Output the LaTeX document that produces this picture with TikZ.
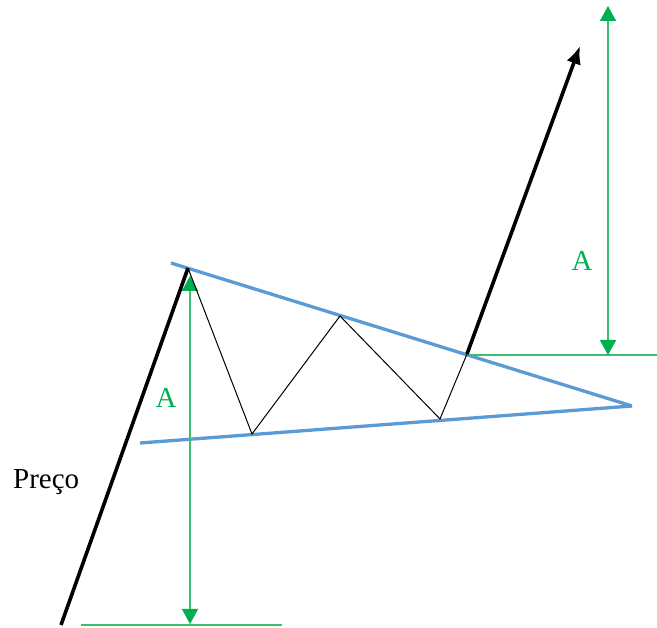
\documentclass[tikz,border=0pt]{standalone}
\usepackage{fontspec}
\setmainfont{Liberation Serif}
\usetikzlibrary{arrows.meta}
\definecolor{gr}{HTML}{00B050}
\definecolor{grl}{HTML}{3DBE6E}
\definecolor{bl}{HTML}{5B9BD5}
\begin{document}
\begin{tikzpicture}[x=1pt,y=-1pt,
  price/.style={line width=3.6pt,black},
  zig/.style={line width=1pt,black,line join=miter},
  trend/.style={line width=3.3pt,bl},
  meas/.style={line width=1.5pt,grl},
  measarrow/.style={line width=1.6pt,grl,{Triangle[length=15pt,width=16pt,gr]}-{Triangle[length=15pt,width=16pt,gr]}},
  lbl/.style={font=\fontsize{29}{32}\selectfont,text=gr,inner sep=0pt}]
\useasboundingbox (0,0) rectangle (657,628);
% price path
\coordinate (p0) at (61,625);
\coordinate (peak) at (188,268);
\coordinate (v1) at (252,434);
\coordinate (t1) at (340,316);
\coordinate (v2) at (440,419);
\coordinate (brk) at (467,354);
\coordinate (tip) at (580,46);
% trend lines
\coordinate (ul) at (171,263);
\coordinate (ll) at (140,443);
\coordinate (apex) at (632,406);
% measurement lines
\coordinate (bl0) at (81,625);
\coordinate (bl1) at (282,625);
\coordinate (al) at (190,276);
\coordinate (ab) at (190,624);
\coordinate (hl0) at (467,355);
\coordinate (hl1) at (657,355);
\coordinate (ar) at (608,6);
\coordinate (arb) at (608,355);

\draw[trend] (ul) -- (apex);
\draw[trend] (ll) -- (apex);
\draw[meas] (bl0) -- (bl1);
\draw[meas] (hl0) -- (hl1);
\draw[measarrow] (al) -- (ab);
\draw[measarrow] (ar) -- (arb);
\draw[price] (p0) -- (peak);
\draw[zig] (peak) -- (v1) -- (t1) -- (v2) -- (brk);
\draw[price,-{Latex[length=18pt,width=15pt]}] (brk) -- (tip);

\node[lbl] (A1) at (166,398) {A};
\node[lbl] (A2) at (582,261) {A};
\node[font=\fontsize{29}{32}\selectfont,inner sep=0pt,anchor=base west] (preco) at (13,489) {Preço};
\end{tikzpicture}
\end{document}
